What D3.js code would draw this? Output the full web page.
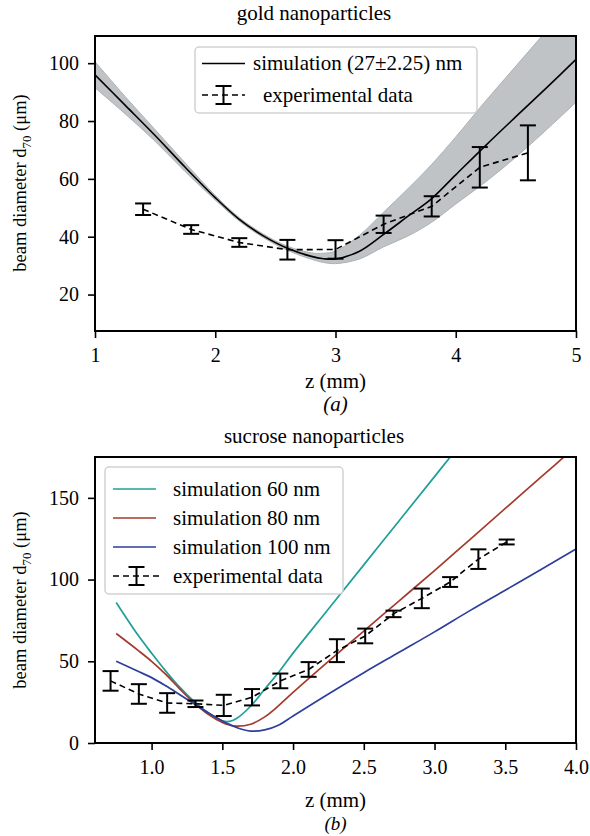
<!DOCTYPE html>
<html><head><meta charset="utf-8">
<script src="https://cdn.jsdelivr.net/npm/d3@7"></script>
<style>
html,body{margin:0;padding:0;background:#fff;}
svg text{font-family:"Liberation Serif","Times New Roman",serif;fill:#000;}
</style></head>
<body><svg id="c" width="590" height="836"></svg>
<script>
// ---------- Panel (a): gold nanoparticles ----------
const goldSimZ     = [1.0, 1.25, 1.5, 1.75, 2.0, 2.2, 2.4, 2.6, 2.8, 2.9, 3.0, 3.2, 3.4, 3.6, 3.8, 4.0, 4.25, 4.5, 4.75, 5.0];
const goldSim      = [96.0, 85.5, 75.0, 64.0, 53.5, 46.0, 40.3, 36.0, 33.2, 32.4, 32.3, 35.0, 40.8, 47.0, 53.2, 61.4, 71.6, 81.5, 91.3, 101.3];
const goldSimUpper = [100.5, 88.5, 77.0, 65.5, 54.3, 46.6, 40.9, 36.7, 34.4, 34.3, 35.0, 40.5, 48.5, 56.5, 65.0, 74.5, 87.0, 99.0, 111.0, 123.0];
const goldSimLower = [91.5, 82.5, 73.0, 62.5, 52.7, 45.4, 39.7, 35.3, 32.2, 31.1, 30.7, 32.3, 36.5, 40.2, 45.0, 51.3, 59.0, 67.5, 76.8, 86.5];
const goldExpZ     = [1.4, 1.8, 2.2, 2.6, 3.0, 3.4, 3.8, 4.2, 4.6];
const goldExp      = [49.5, 42.5, 38.0, 35.5, 35.6, 44.3, 50.5, 64.0, 69.0];
const goldExpErr   = [2.0, 1.5, 1.5, 3.4, 3.2, 3.0, 3.5, 7.0, 9.5];
const goldXTicks   = [1, 2, 3, 4, 5];
const goldYTicks   = [20, 40, 60, 80, 100];

// ---------- Panel (b): sucrose nanoparticles ----------
const sucSimZ   = [0.75, 0.9, 1.0, 1.1, 1.2, 1.3, 1.4, 1.5, 1.55, 1.6, 1.7, 1.8, 1.9, 2.0, 2.25, 2.5, 2.75, 3.0, 3.25, 3.5, 3.75, 4.0];
const sim60     = [86, 66.5, 55, 44, 34, 25.5, 18.5, 13.6, 13.2, 15, 22.5, 33, 43.5, 55, 82, 109, 136, 163, 190, 217, 244, 271];
const sim80     = [67, 57, 50, 42, 33, 24.5, 17.5, 12.5, 11.0, 10.3, 11.5, 16, 23, 31, 50, 68.5, 87, 105.5, 124.5, 143.5, 162.5, 181.5];
const sim100    = [50, 44, 40, 35, 29.5, 24, 18.5, 13.5, 11.4, 9.5, 7.3, 8, 11, 16.5, 30, 43, 55.5, 68, 81, 93.5, 106, 118.7];
const sucExpZ   = [0.71, 0.91, 1.11, 1.31, 1.51, 1.71, 1.91, 2.11, 2.31, 2.51, 2.71, 2.91, 3.11, 3.31, 3.51];
const sucExp    = [38, 30, 24.5, 24, 23, 28, 38, 45, 56.5, 65.5, 79, 88.5, 98.5, 112.5, 123];
const sucExpErr = [6, 6, 6, 2, 6.5, 5, 4.5, 4.5, 7, 4.5, 2, 6, 3, 6, 1.5];
const sucXTicks = [1.0, 1.5, 2.0, 2.5, 3.0, 3.5, 4.0];
const sucYTicks = [0, 50, 100, 150];

const svg = d3.select("#c");
const FS_TICK = 20, FS_LAB = 21, FS_LEG = 21, FS_TITLE = 21, FS_Y = 18.5;
const TITLE_X = 314;

function axesFrame(g, x, y, xTicks, yTicks, xFmt, box, clipId) {
  g.append("clipPath").attr("id", clipId).append("rect")
    .attr("x", box.l).attr("y", box.t).attr("width", box.r - box.l).attr("height", box.b - box.t);
  const xa = g.append("g").attr("transform", `translate(0,${box.b})`)
    .call(d3.axisBottom(x).tickValues(xTicks).tickFormat(xFmt).tickSize(7).tickPadding(6));
  const ya = g.append("g").attr("transform", `translate(${box.l},0)`)
    .call(d3.axisLeft(y).tickValues(yTicks).tickFormat(d3.format("d")).tickSize(7).tickPadding(9));
  [xa, ya].forEach(a => {
    a.select(".domain").remove();
    a.selectAll("line").attr("stroke", "#000").attr("stroke-width", 1.6);
    a.selectAll("text").attr("font-size", FS_TICK).attr("font-family", "Liberation Serif");
  });
  xa.selectAll("text").attr("dy", "0.9em");
}
function frameBox(g, box) {
  g.append("rect").attr("x", box.l).attr("y", box.t).attr("width", box.r - box.l).attr("height", box.b - box.t)
    .attr("fill", "none").attr("stroke", "#000").attr("stroke-width", 2);
}
function yLabel(g, cx, cy) {
  const t = g.append("text").attr("transform", `translate(${cx},${cy}) rotate(-90)`)
    .attr("text-anchor", "middle").attr("font-size", FS_Y);
  t.append("tspan").text("beam diameter d");
  t.append("tspan").attr("font-size", 13).attr("dy", 5).text("70");
  t.append("tspan").attr("dy", -5).text(" (μm)");
}
function errorbars(g, x, y, zs, vs, es, clip) {
  const line = d3.line().x((d, i) => x(zs[i])).y(d => y(d));
  g.append("path").datum(vs).attr("d", line).attr("fill", "none").attr("stroke", "#000")
    .attr("stroke-width", 1.6).attr("stroke-dasharray", "6,4").attr("clip-path", clip);
  const eb = g.append("g").attr("stroke", "#000").attr("stroke-width", 2);
  zs.forEach((z, i) => {
    const cx = x(z), y0 = y(vs[i] - es[i]), y1 = y(vs[i] + es[i]);
    eb.append("line").attr("x1", cx).attr("x2", cx).attr("y1", y0).attr("y2", y1);
    eb.append("line").attr("x1", cx - 8).attr("x2", cx + 8).attr("y1", y0).attr("y2", y0);
    eb.append("line").attr("x1", cx - 8).attr("x2", cx + 8).attr("y1", y1).attr("y2", y1);
  });
}
function legendErr(g, x0, x1, cy) {
  g.append("line").attr("x1", x0).attr("x2", x1).attr("y1", cy).attr("y2", cy)
    .attr("stroke", "#000").attr("stroke-width", 1.6).attr("stroke-dasharray", "6,4");
  const cx = (x0 + x1) / 2;
  const e = g.append("g").attr("stroke", "#000").attr("stroke-width", 2);
  e.append("line").attr("x1", cx).attr("x2", cx).attr("y1", cy - 9).attr("y2", cy + 9);
  e.append("line").attr("x1", cx - 8).attr("x2", cx + 8).attr("y1", cy - 9).attr("y2", cy - 9);
  e.append("line").attr("x1", cx - 8).attr("x2", cx + 8).attr("y1", cy + 9).attr("y2", cy + 9);
}

// ===== Panel (a) =====
{
  const box = {l: 95, r: 576, t: 36, b: 331};
  const g = svg.append("g");
  const x = d3.scaleLinear().domain([1, 5]).range([box.l, box.r]);
  const y = d3.scaleLinear().domain([7.4, 109.4]).range([box.b, box.t]);
  axesFrame(g, x, y, goldXTicks, goldYTicks, d3.format("d"), box, "clipA");
  const area = d3.area().x((d, i) => x(goldSimZ[i])).y0((d, i) => y(goldSimLower[i])).y1(d => y(d))
    .curve(d3.curveCatmullRom);
  g.append("path").datum(goldSimUpper).attr("d", area).attr("fill", "#bfc3c6")
    .attr("stroke", "#aeb2b5").attr("stroke-width", 1).attr("clip-path", "url(#clipA)");
  const line = d3.line().x((d, i) => x(goldSimZ[i])).y(d => y(d)).curve(d3.curveCatmullRom);
  g.append("path").datum(goldSim).attr("d", line).attr("fill", "none").attr("stroke", "#000")
    .attr("stroke-width", 1.6).attr("clip-path", "url(#clipA)");
  errorbars(g, x, y, goldExpZ, goldExp, goldExpErr, "url(#clipA)");
  frameBox(g, box);
  // legend
  const lg = g.append("g");
  lg.append("rect").attr("x", 195).attr("y", 47).attr("width", 282).attr("height", 66).attr("rx", 4)
    .attr("fill", "#fff").attr("fill-opacity", 0.85).attr("stroke", "#cfd2d4").attr("stroke-width", 1.5);
  lg.append("line").attr("x1", 202).attr("x2", 245).attr("y1", 63.5).attr("y2", 63.5)
    .attr("stroke", "#000").attr("stroke-width", 1.6);
  lg.append("text").attr("x", 253).attr("y", 63.5).attr("dy", "0.33em").attr("font-size", FS_LEG)
    .text("simulation (27±2.25) nm");
  legendErr(lg, 202, 245, 95);
  lg.append("text").attr("x", 263).attr("y", 95).attr("dy", "0.33em").attr("font-size", FS_LEG)
    .text("experimental data");
  g.append("text").attr("x", TITLE_X).attr("y", 20).attr("text-anchor", "middle")
    .attr("font-size", FS_TITLE).text("gold nanoparticles");
  g.append("text").attr("x", (box.l + box.r) / 2).attr("y", 388).attr("text-anchor", "middle")
    .attr("font-size", FS_LAB).text("z (mm)");
  g.append("text").attr("x", (box.l + box.r) / 2).attr("y", 411).attr("text-anchor", "middle")
    .attr("font-size", FS_LAB).attr("font-style", "italic").text("(a)");
  yLabel(g, 26, 183);
}

// ===== Panel (b) =====
{
  const box = {l: 95, r: 576, t: 457, b: 743};
  const g = svg.append("g");
  const x = d3.scaleLinear().domain([0.6, 4.0]).range([box.l, box.r]);
  const y = d3.scaleLinear().domain([0, 175]).range([box.b, box.t]);
  axesFrame(g, x, y, sucXTicks, sucYTicks, d3.format(".1f"), box, "clipB");
  const line = d3.line().x((d, i) => x(sucSimZ[i])).y(d => y(d)).curve(d3.curveCatmullRom);
  const series = [
    {v: sim60, c: "#1f9f97", label: "simulation 60 nm"},
    {v: sim80, c: "#a53a2c", label: "simulation 80 nm"},
    {v: sim100, c: "#2d3e9d", label: "simulation 100 nm"}
  ];
  series.forEach(s => {
    g.append("path").datum(s.v).attr("d", line).attr("fill", "none").attr("stroke", s.c)
      .attr("stroke-width", 1.7).attr("clip-path", "url(#clipB)");
  });
  errorbars(g, x, y, sucExpZ, sucExp, sucExpErr, "url(#clipB)");
  frameBox(g, box);
  const lg = g.append("g");
  lg.append("rect").attr("x", 105).attr("y", 467).attr("width", 238).attr("height", 127).attr("rx", 4)
    .attr("fill", "#fff").attr("fill-opacity", 0.85).attr("stroke", "#cfd2d4").attr("stroke-width", 1.5);
  const ys = [489, 518, 547, 576];
  series.forEach((s, i) => {
    lg.append("line").attr("x1", 113).attr("x2", 156).attr("y1", ys[i]).attr("y2", ys[i])
      .attr("stroke", s.c).attr("stroke-width", 1.7);
    lg.append("text").attr("x", 173).attr("y", ys[i]).attr("dy", "0.33em").attr("font-size", FS_LEG).text(s.label);
  });
  legendErr(lg, 113, 160, ys[3]);
  lg.append("text").attr("x", 173).attr("y", ys[3]).attr("dy", "0.33em").attr("font-size", FS_LEG).text("experimental data");
  g.append("text").attr("x", TITLE_X).attr("y", 443).attr("text-anchor", "middle")
    .attr("font-size", FS_TITLE).text("sucrose nanoparticles");
  g.append("text").attr("x", (box.l + box.r) / 2).attr("y", 807).attr("text-anchor", "middle")
    .attr("font-size", FS_LAB).text("z (mm)");
  g.append("text").attr("x", (box.l + box.r) / 2).attr("y", 830).attr("text-anchor", "middle")
    .attr("font-size", 19).attr("font-style", "italic").text("(b)");
  yLabel(g, 26, 600);
}
</script></body></html>
